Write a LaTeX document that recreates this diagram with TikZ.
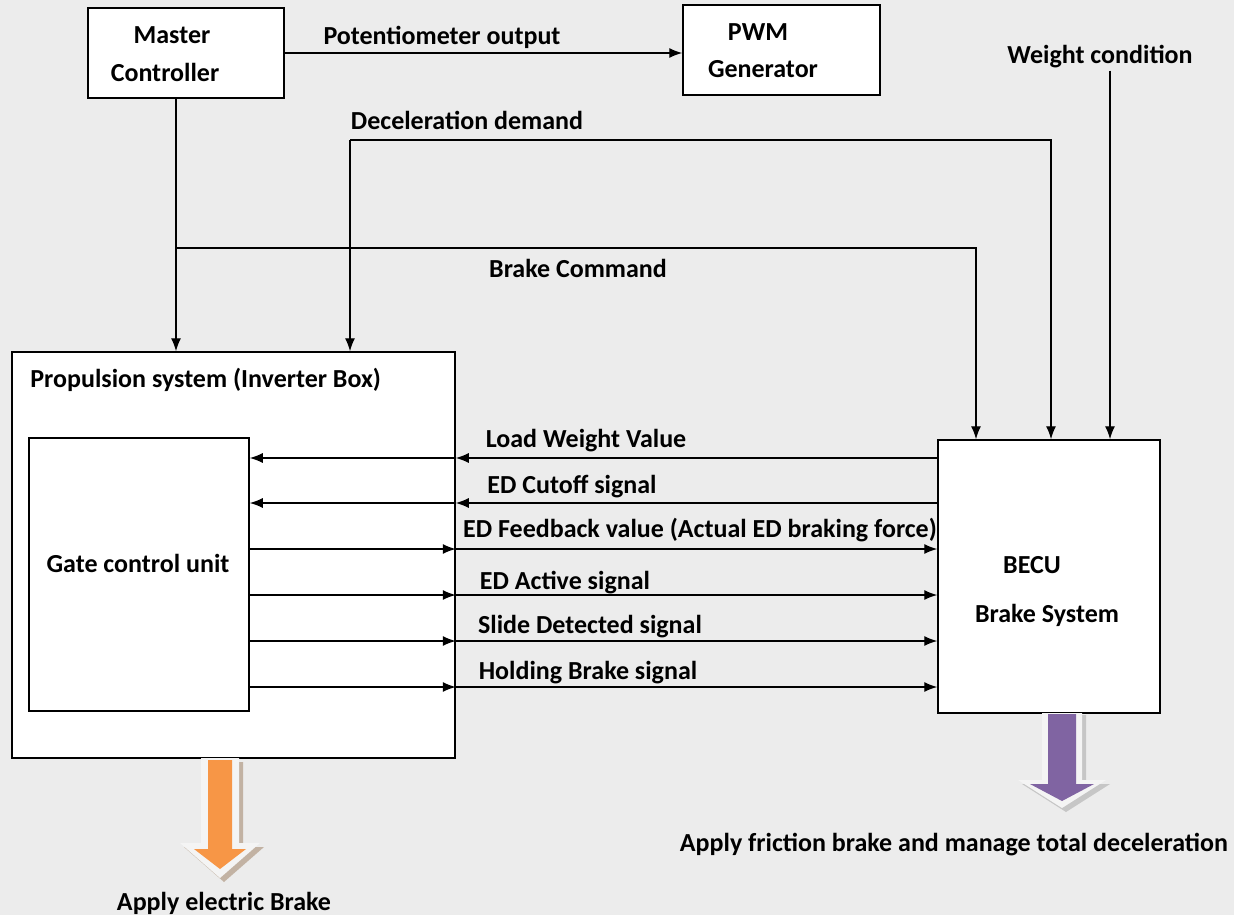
\documentclass[tikz,border=0pt]{standalone}
\usepackage{fontspec}
\setmainfont{Carlito}
\usetikzlibrary{arrows.meta}
\definecolor{bgcol}{HTML}{ECECEC}
\definecolor{elorange}{HTML}{F79646}
\definecolor{frpurple}{HTML}{8064A2}
\definecolor{rim}{HTML}{F4F4F4}

\begin{document}
\begin{tikzpicture}[x=0.5pt,y=-0.5pt]

\tikzset{block/.style = {shape=rectangle,draw,fill=white,line width=0.75pt,inner sep=0pt}}
\tikzset{txt/.style = {font=\fontsize{13}{15}\selectfont\bfseries,inner sep=1pt}}
\tikzset{edge/.style = {->,line width=0.65pt,> = {Latex[length=6.5pt,width=5pt]}}}

\fill[bgcol] (0,0) rectangle (1234,915);
\useasboundingbox (0,0) rectangle (1234,915);

% blocks
\node[block,minimum width=98pt,minimum height=45pt] (mc) at (186,53) {};
\node[block,minimum width=98.5pt,minimum height=45pt] (pwm) at (781.5,50) {};
\node[block,minimum width=221.5pt,minimum height=203pt] (prop) at (233.5,555) {};
\node[block,minimum width=110pt,minimum height=136.5pt] (gcu) at (139,574.5) {};
\node[block,minimum width=111pt,minimum height=136.5pt] (becu) at (1049,576.5) {};

% block texts
\node[txt] (mctop) at (172,35) {Master};
\node[txt] (mcbot) at (165,72) {Controller};
\node[txt] (pwmtop) at (758,32) {PWM};
\node[txt] (pwmbot) at (763,69) {Generator};
\node[txt,anchor=west] (proptitle) at (28,380) {Propulsion system (Inverter Box)};
\node[txt] (gcutext) at (138,563) {Gate control unit};
\node[txt] (becutop) at (1032,565) {BECU};
\node[txt] (becubot) at (1047,615) {Brake System};

% labels
\node[txt] (pot) at (442,37) {Potentiometer output};
\node[txt] (decel) at (467,120) {Deceleration demand};
\node[txt] (bcmd) at (578,268) {Brake Command};
\node[txt] (wtext) at (1100,57) {Weight condition};
\node[txt] (lwv) at (586,441) {Load Weight Value};
\node[txt] (edc) at (572,487) {ED Cutoff signal};
\node[txt] (edf) at (700,530) {ED Feedback value (Actual ED braking force)};
\node[txt] (eda) at (565,583) {ED Active signal};
\node[txt] (sld) at (590,627) {Slide Detected signal};
\node[txt] (hld) at (588,673) {Holding Brake signal};
\node[txt] (elec) at (224,903) {Apply electric Brake};
\node[txt] (fric) at (954,845) {Apply friction brake and manage total deceleration};

% junctions
\coordinate (bc) at (176,248);
\coordinate (bcin) at (976,0);
\coordinate (dd) at (350,140);
\coordinate (ddin) at (1051,0);
\coordinate (wc) at (1110,0);
\coordinate (ylw) at (0,458);
\coordinate (yedc) at (0,503);
\coordinate (yedf) at (0,549);
\coordinate (yeda) at (0,595);
\coordinate (ysld) at (0,641);
\coordinate (yhld) at (0,687);

%edges
\draw[edge] (mc.east) -- (pwm.west |- mc.east);
\draw[edge] (mc.south -| bc) -- (prop.north -| bc);
\draw[edge] (bc) -| (becu.north -| bcin);
\draw[edge] (dd) -- (prop.north -| dd);
\draw[edge] (dd) -| (becu.north -| ddin);
\draw[edge] (wtext.south -| wc) -- (becu.north -| wc);

\draw[edge] (becu.west |- ylw) -- (prop.east |- ylw);
\draw[edge] (prop.east |- ylw) -- (gcu.east |- ylw);
\draw[edge] (becu.west |- yedc) -- (prop.east |- yedc);
\draw[edge] (prop.east |- yedc) -- (gcu.east |- yedc);
\draw[edge] (gcu.east |- yedf) -- (prop.east |- yedf);
\draw[edge] (prop.east |- yedf) -- (becu.west |- yedf);
\draw[edge] (gcu.east |- yeda) -- (prop.east |- yeda);
\draw[edge] (prop.east |- yeda) -- (becu.west |- yeda);
\draw[edge] (gcu.east |- ysld) -- (prop.east |- ysld);
\draw[edge] (prop.east |- ysld) -- (becu.west |- ysld);
\draw[edge] (gcu.east |- yhld) -- (prop.east |- yhld);
\draw[edge] (prop.east |- yhld) -- (becu.west |- yhld);

% block arrows
\fill[brown!40!gray!60] (203,762) -- (243,762) -- (243,847) -- (264,847) -- (224,882) -- (184,847) -- (203,847) -- cycle;
\fill[rim] (201,758) -- (239,758) -- (239,843) -- (260,843) -- (220,878) -- (180,843) -- (201,843) -- cycle;
\fill[elorange] (208,760) -- (232,760) -- (232,849) -- (246,849) -- (220,869) -- (194,849) -- (208,849) -- cycle;

\fill[gray!45] (1046,715) -- (1086,715) -- (1086,784) -- (1110,784) -- (1066,812) -- (1022,784) -- (1046,784) -- cycle;
\fill[rim] (1042,713) -- (1082,713) -- (1082,780) -- (1106,780) -- (1062,808) -- (1018,780) -- (1042,780) -- cycle;
\fill[frpurple] (1048,714) -- (1076,714) -- (1076,784) -- (1094,784) -- (1062,801) -- (1030,784) -- (1048,784) -- cycle;
\end{tikzpicture}
\end{document}
